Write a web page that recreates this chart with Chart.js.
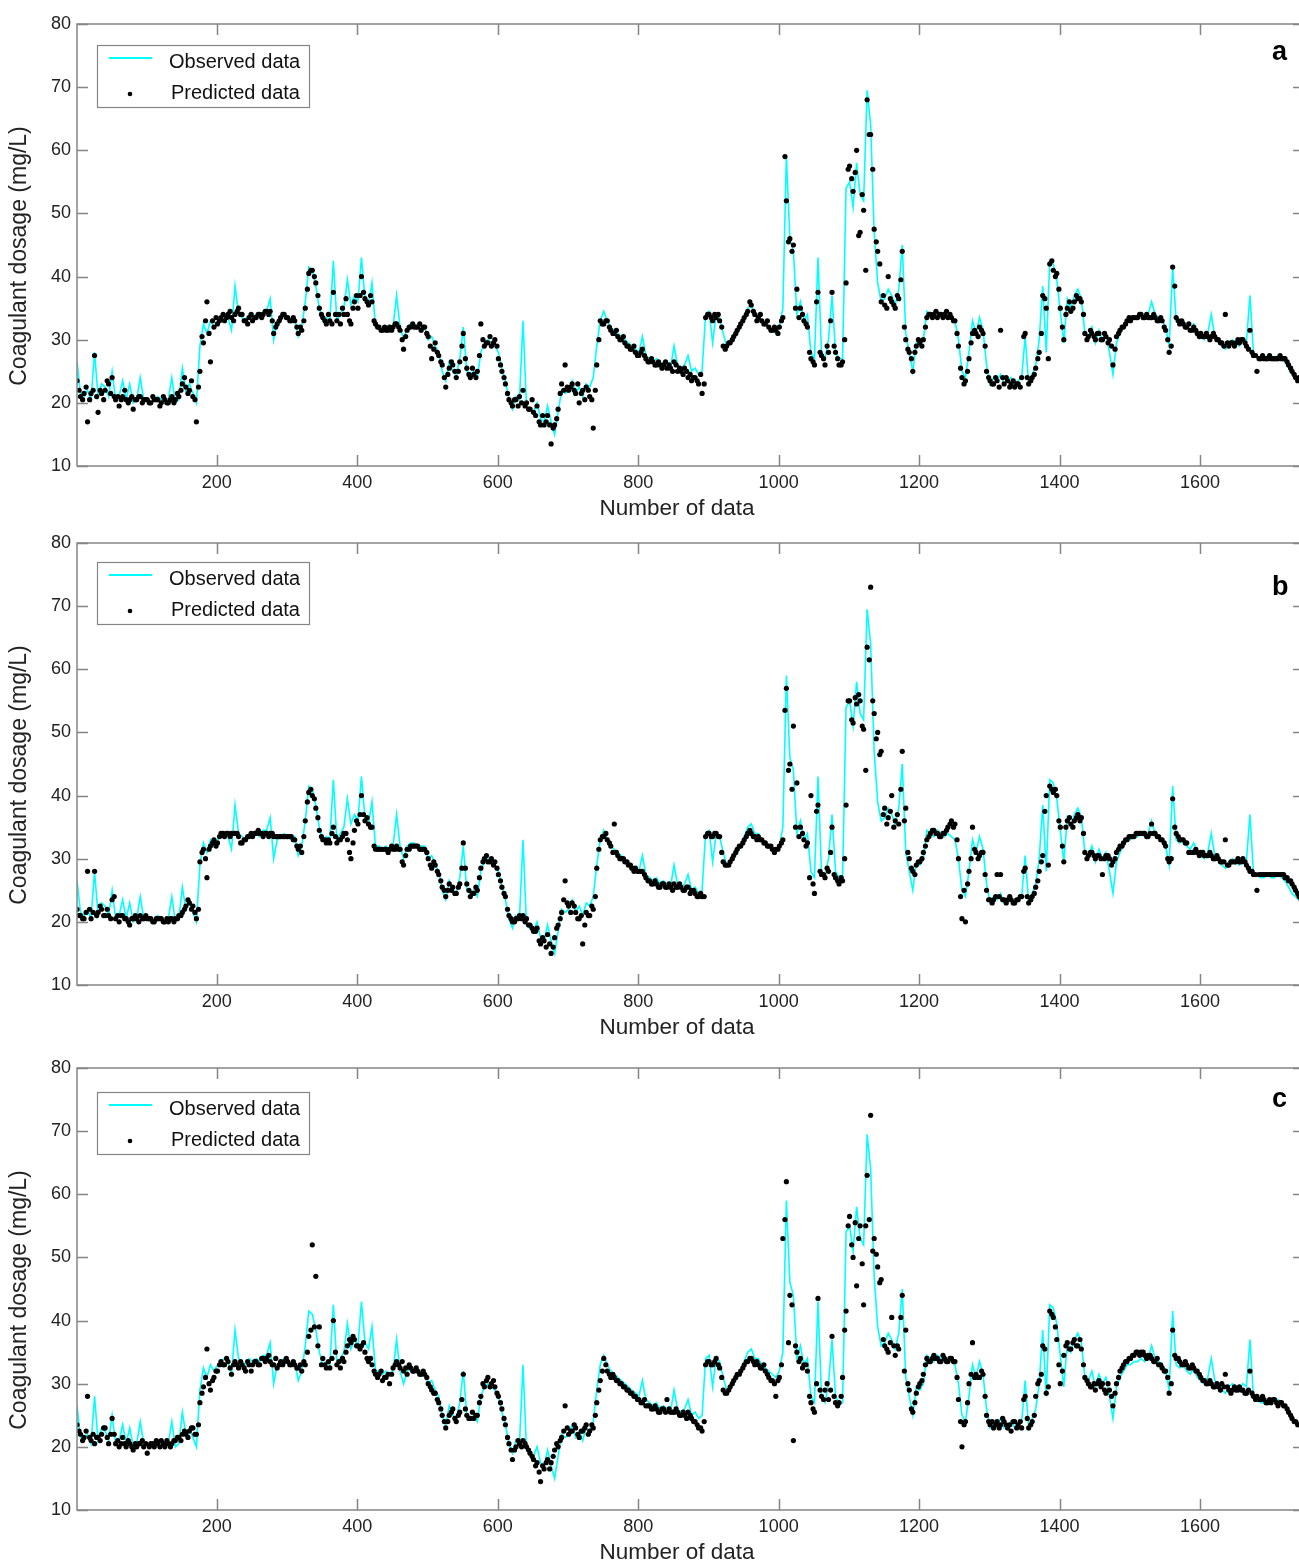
<!DOCTYPE html>
<html>
<head>
<meta charset="utf-8">
<script src="https://cdn.jsdelivr.net/npm/chart.js@4.4.1/dist/chart.umd.min.js"></script>
<style>
  html, body { margin: 0; padding: 0; background: #fff; overflow: hidden; }
  body { width: 1299px; height: 1562px; position: relative; }
  .panel { position: absolute; left: 0; width: 1330px; height: 526px; }
</style>
</head>
<body>
<div class="panel" style="top:0px"><canvas id="chartA" width="1330" height="526"></canvas></div>
<div class="panel" style="top:519px"><canvas id="chartB" width="1330" height="526"></canvas></div>
<div class="panel" style="top:1044px"><canvas id="chartC" width="1330" height="526"></canvas></div>
<script>
// values read every 5 data points: main samples start at data point 1,
// the in-between predicted samples start at data point 4
const firstSample = 1;
const offsetSample = 4;
const sampleStep = 5;

const xTickValues = [200, 400, 600, 800, 1000, 1200, 1400, 1600];
const yTickValues = [10, 20, 30, 40, 50, 60, 70, 80];

// observed coagulant dosage (mg/L), same in all three panels
const observed = [
  26.5, 21.5, 21, 22, 20.5, 28, 21, 23, 22.5, 21, 25, 20.5, 21, 23.5, 20.5, 23, 20, 20.5, 24, 20.5,        // 1
  20.5, 20, 20.5, 21, 20.5, 20, 20.5, 24, 20, 20.5, 25.5, 22, 23, 21.5, 20, 29, 32.5, 31, 33, 32,          // 101
  33, 33.5, 34, 33.5, 31.5, 38.5, 34, 33.5, 33, 34, 33.5, 34, 33.5, 34.5, 34.5, 36.5, 30, 33, 33.5, 34,    // 201
  33.5, 33, 33.5, 30.5, 32, 36, 41.5, 41, 38.5, 35, 33, 33.5, 33, 42.5, 33, 34, 35, 39.5, 35.5, 37,        // 301
  36, 43, 36.5, 35.5, 39, 32, 32, 31.5, 32, 31.5, 32, 37, 32, 30, 32, 32.5, 32.5, 32, 32, 32,              // 401
  30, 30.5, 29, 28, 25, 23.5, 26.5, 25, 24.5, 27, 32, 25, 24.5, 25, 24, 28, 29.5, 30, 29.5, 29,            // 501
  28, 25.5, 23.5, 20.5, 19, 21, 20.5, 33, 19.5, 19, 18.5, 20, 17.5, 17, 19.5, 17, 15, 18.5, 22, 21.5,      // 601
  22, 23.5, 21.5, 22.5, 21, 23, 22.5, 24, 29, 33, 34.5, 33, 32, 31.5, 31, 30.5, 30, 29.5, 29, 28.5,        // 701
  28, 30.5, 27.5, 27, 26.5, 27, 26, 26.5, 26, 25.5, 29, 26, 25.5, 26, 27.5, 25, 25.5, 24.5, 25, 34,        // 801
  34.5, 29.5, 34, 33.5, 31, 29, 29.5, 30, 31, 32, 33.5, 35, 35.5, 34, 34, 33, 32.5, 32, 31.5, 31,          // 901
  32, 35, 59, 46, 44, 34, 36, 33, 34, 28, 27, 43, 28, 27, 30, 37, 28, 27, 27, 54,                          // 1001
  55, 51, 58, 53, 52, 69.5, 64, 47, 39, 36, 36.5, 38, 37, 35.5, 38, 45, 31, 28, 25, 29.5,                  // 1101
  29, 30, 34.5, 34, 33.5, 34.5, 34, 33.5, 34, 33.5, 33, 30, 25, 24, 28, 33, 31, 33.5, 31.5, 26,            // 1201
  23, 24, 23.5, 24.5, 23, 23.5, 24, 23, 23.5, 24, 30.5, 23, 24.5, 26, 30, 38.5, 28, 42.5, 42, 39.5,        // 1301
  34.5, 29.5, 36.5, 35, 37, 38, 36.5, 31, 30.5, 32, 29.5, 31.5, 30, 31, 28, 24.5, 29.5, 31, 32, 33,        // 1401
  33, 33.5, 33.5, 34, 33.5, 34, 36, 34, 33.5, 33, 32, 29, 41.5, 33, 32.5, 33, 32, 31.5, 32.5, 31,          // 1501
  30.5, 30, 31, 34, 30.5, 30, 29, 28.5, 29.5, 30, 29.5, 29, 30, 29.5, 37, 28, 27.5, 27, 27, 27.5,          // 1601
  27, 27, 27.5, 27, 26.5, 25.5, 24.5, 24, 23.5, 24                                                          // 1701
];

// predicted dosage, panel a (data points 1, 6, 11, ...)
const predictedA = [
  23.5, 21, 21.5, 17, 21.5, 27.5, 18.5, 21.5, 22, 23, 24, 20.5, 19.5, 21, 20.5, 20.5, 19, 20.5, 21, 20.5,
  20.5, 20, 20.5, 20.5, 20, 20.5, 20, 21, 20.5, 21, 23, 22.5, 22, 21, 17, 25, 29.5, 36, 26.5, 32,
  32.5, 33.5, 33, 34, 33.5, 34, 35, 34, 33, 33.5, 33, 33.5, 34, 34, 34.5, 34.5, 31, 32.5, 33.5, 34,
  33.5, 33, 33, 31, 31.5, 35, 40.5, 41, 39, 35, 33.5, 32.5, 33, 37.5, 33, 32.5, 34, 34, 32.5, 36,
  35, 40, 36.5, 35.5, 36, 32.5, 32, 31.5, 31.5, 32, 32, 32.5, 31.5, 28.5, 31.5, 32, 32, 32, 31.5, 32,
  30.5, 27, 29.5, 27.5, 26, 22.5, 25.5, 26, 24, 26.5, 31, 25.5, 24, 24.5, 25, 32.5, 29, 29.5, 29, 30,
  27, 25, 23, 20.5, 19.5, 20.5, 21, 22, 20, 19, 18.5, 19.5, 16.5, 16.5, 18, 13.5, 16.5, 19, 23, 26,
  22, 23, 21.5, 20, 22, 22.5, 21, 16, 26, 33, 32.5, 33, 31.5, 31, 30.5, 30, 29.5, 29, 28.5, 28,
  27.5, 28.5, 27, 26.5, 26.5, 26, 26, 26, 25.5, 25.5, 26.5, 25, 25, 25.5, 24, 23.5, 24, 23, 21.5, 33.5,
  34, 33, 33.5, 33, 29, 29, 29.5, 30.5, 31.5, 32.5, 33.5, 34.5, 35.5, 34, 33.5, 33, 32.5, 32, 31.5, 31.5,
  32, 33.5, 52, 46, 45, 38, 35, 33, 32, 27, 26, 37.5, 27.5, 26, 28, 37.5, 28, 26, 26.5, 39,
  57.5, 53.5, 60, 47, 50.5, 68, 62.5, 47.5, 44, 36, 35.5, 40, 36, 35, 36.5, 44, 30, 28, 25, 29,
  29.5, 30, 33.5, 34, 34, 33.5, 34, 34, 33.5, 33.5, 33, 29, 24, 23.5, 27, 31, 31, 32, 31, 25,
  23.5, 23, 23.5, 31.5, 23, 23.5, 23, 22.5, 23, 24, 31, 23, 24, 25.5, 28, 37, 35, 42, 41, 40.5,
  35, 30, 35, 34.5, 36, 36.5, 36, 31, 30.5, 31, 30, 31, 30, 30.5, 30, 26, 30.5, 31.5, 32, 33,
  33, 33.5, 33.5, 34, 33.5, 33.5, 33.5, 33.5, 33, 33, 31.5, 28, 41.5, 33.5, 32.5, 32.5, 32, 31.5, 32, 31,
  31, 30.5, 30.5, 30.5, 30.5, 30, 29.5, 34, 29, 29.5, 29.5, 29.5, 30, 29, 31.5, 27.5, 25, 27, 27, 27,
  27, 27, 27, 27, 27, 26, 25, 24, 24, 24
];
// predicted dosage, panel a (data points 4, 9, 14, ...)
const predictedAOffset = [
  22, 20.5, 22.5, 20.5, 22, 21, 22, 20.5, 23.5, 21.5, 21, 21, 20.5, 22, 20, 21, 20.5, 21, 20, 20.5,
  20, 21, 20.5, 19.5, 21, 20, 20.5, 20, 21.5, 22, 24, 21.5, 23.5, 20.5, 22.5, 30.5, 33, 31, 33, 33.5,
  33, 34, 33.5, 34.5, 33, 34.5, 34, 33, 32.5, 34, 33.5, 34, 33.5, 34.5, 34, 33, 32, 33, 34, 33.5,
  33, 33.5, 32, 32, 33, 38, 41, 40, 37, 34, 33, 34, 32.5, 34, 34, 35, 36.5, 33, 35, 37,
  37, 37.5, 36, 37, 33, 32, 31.5, 32, 31.5, 31.5, 32.5, 32, 30, 30.5, 32, 32.5, 32, 32.5, 32, 31,
  29, 28.5, 28, 26.5, 24, 24.5, 26.5, 25, 25, 29, 27, 24.5, 25.5, 24, 27.5, 30, 29.5, 30.5, 29.5, 29,
  26, 24, 21.5, 20, 20.5, 19.5, 20, 19.5, 19, 20.5, 18, 17, 18, 17, 16.5, 16, 17.5, 21.5, 22, 22.5,
  22.5, 22, 23, 21.5, 20.5, 22, 20.5, 22, 30, 32.5, 33, 32, 31, 31.5, 30, 30.5, 29, 28.5, 29, 27.5,
  28, 27.5, 26.5, 27, 26, 26.5, 25.5, 26.5, 26, 25, 26, 25.5, 24.5, 25, 24.5, 24, 23.5, 24.5, 23, 34,
  33.5, 34, 34, 32, 28.5, 29.5, 30, 31, 32, 33, 34, 36, 34.5, 33, 34, 32.5, 33, 31.5, 32, 31,
  33, 59, 45.5, 44, 35, 33.5, 34, 32.5, 28, 26.5, 36, 28, 27, 29, 33, 29, 27, 26, 30, 57,
  55.5, 56.5, 46.5, 53, 41, 62.5, 57, 45.5, 42, 37, 35, 36.5, 35.5, 37, 39.5, 32, 28.5, 27, 28, 30,
  29, 32, 34, 33.5, 34.5, 34, 33.5, 34.5, 34, 33, 31, 25.5, 23, 25, 29.5, 31.5, 30.5, 31.5, 29, 24,
  23, 24, 22.5, 24, 24, 22.5, 23.5, 23, 22.5, 30.5, 24, 23.5, 24.5, 27, 31, 36.5, 27, 42.5, 40, 38,
  32, 34, 36, 35, 37, 36.5, 34, 30, 31.5, 30.5, 31, 30, 31, 29.5, 29, 28.5, 31, 32, 32.5, 33.5,
  33.5, 33.5, 34, 33.5, 34, 33.5, 34, 33, 33.5, 32, 30, 29, 38.5, 33, 33, 32, 32.5, 31.5, 31.5, 30.5,
  30.5, 31, 30, 31, 30, 29.5, 29, 29.5, 29.5, 29, 30, 30, 29.5, 28.5, 28, 27.5, 27, 27.5, 27, 27.5,
  27, 27, 27.5, 27, 26.5, 25.5, 24.5, 23.5, 24
];

// predicted dosage, panel b
const predictedB = [
  22, 21, 20.5, 28, 20.5, 28, 21.5, 22, 21, 21, 23.5, 20.5, 20, 21, 20.5, 19.5, 20.5, 20.5, 21, 20.5,
  20.5, 20.5, 20, 20.5, 20.5, 20, 20, 20.5, 20.5, 21, 21.5, 22.5, 23, 22.5, 20.5, 29.5, 31.5, 27, 32, 33,
  32.5, 34, 33.5, 34, 34, 34, 33.5, 32.5, 33, 33.5, 33.5, 34, 34, 33.5, 34, 34, 33.5, 33.5, 33.5, 33.5,
  33.5, 33.5, 33, 31.5, 31, 36, 40.5, 40, 38, 34.5, 33, 32.5, 32.5, 35, 32.5, 33, 34, 33, 30, 34.5,
  35.5, 40, 36, 35.5, 35, 31.5, 31.5, 31.5, 31.5, 31.5, 31.5, 32, 31.5, 29, 31.5, 32, 32, 32, 31.5, 31.5,
  30, 28.5, 29, 27.5, 25.5, 24, 26, 25.5, 24.5, 26, 32.5, 26, 24, 24.5, 25, 28.5, 30, 29.5, 30, 29.5,
  27.5, 25.5, 24, 21, 20, 20.5, 21, 21, 20.5, 19.5, 18.5, 19, 16.5, 17, 18, 15, 17.5, 19.5, 21.5, 26.5,
  22.5, 23, 21.5, 20.5, 16.5, 21.5, 21, 22, 28.5, 33, 33.5, 33, 32, 35.5, 30.5, 30, 29.5, 29, 28.5, 28.5,
  28, 28, 27, 26.5, 26, 26, 25.5, 26, 25.5, 25.5, 26, 25.5, 25.5, 25, 25.5, 25, 24.5, 24, 24, 33.5,
  34, 33.5, 34, 33.5, 29.5, 29, 29.5, 30.5, 31.5, 32, 33, 34, 34, 33.5, 33.5, 33, 32.5, 32, 31.5, 31.5,
  32, 33, 57, 45, 51, 42, 35, 33, 32.5, 40, 24.5, 38.5, 27.5, 27, 28, 35, 27, 26, 26.5, 38.5,
  55, 51.5, 54.5, 55, 50.5, 63.5, 73, 53, 50, 47, 38, 36.5, 40, 36, 35.5, 47, 38, 30, 28, 29,
  29.5, 31, 33, 34, 34.5, 34, 33.5, 34, 35, 36, 35.5, 30, 20.5, 20, 28, 35, 31, 30.5, 31, 25,
  23.5, 23.5, 27.5, 27.5, 23.5, 23.5, 23.5, 23, 23.5, 24, 28.5, 23, 24, 25.5, 28, 30.5, 40, 41.5, 40.5, 40,
  35, 29.5, 36, 35.5, 36, 37, 36.5, 31, 30.5, 31, 30, 30.5, 27.5, 30.5, 30, 29.5, 31, 32, 32.5, 33,
  33.5, 33.5, 34, 34, 34, 33.5, 35.5, 34, 33.5, 33, 32, 29.5, 39.5, 34, 33, 33, 32.5, 31, 31, 31,
  31, 30.5, 30.5, 30.5, 30, 30, 29.5, 33, 29, 29.5, 29.5, 29.5, 30, 29, 28, 27.5, 25, 27.5, 27.5, 27.5,
  27.5, 27.5, 27.5, 27.5, 27, 26.5, 26, 25, 24, 23.5
];
const predictedBOffset = [
  21, 20.5, 21.5, 22, 21.5, 21, 22.5, 21, 22, 20.5, 24, 21, 21, 20.5, 20, 20.5, 21, 20, 20.5, 21,
  20.5, 20, 20.5, 20.5, 20, 20.5, 20.5, 20, 20.5, 21, 22, 23.5, 22, 21.5, 22, 31, 30, 31.5, 32.5, 32,
  33.5, 34, 34, 33.5, 34, 34, 32.5, 33, 33.5, 34, 34, 34.5, 34, 34, 33.5, 34, 33.5, 33.5, 33.5, 33.5,
  33.5, 33, 32, 32, 33.5, 39, 41, 39.5, 36.5, 33.5, 33, 33, 34, 33.5, 33, 33.5, 34, 31, 32.5, 36,
  37, 37, 36.5, 35, 32, 31.5, 31.5, 31.5, 31, 32, 31.5, 31.5, 29.5, 30.5, 31.5, 32, 32, 31.5, 31.5, 31,
  29, 29.5, 28, 26.5, 25, 25, 25, 24.5, 25.5, 28.5, 28.5, 25, 24.5, 25.5, 27, 29.5, 30.5, 29.5, 29, 28.5,
  26.5, 24.5, 22, 20.5, 20, 20.5, 20.5, 20, 19.5, 19, 18.5, 17, 17.5, 16, 16.5, 16, 19, 20.5, 23.5, 23,
  21.5, 22.5, 20.5, 21, 19.5, 21, 22.5, 24, 31.5, 33.5, 34, 32.5, 31, 31, 30, 30, 29.5, 29, 28, 28,
  28, 27.5, 26.5, 26, 26.5, 25.5, 26, 25.5, 26, 25, 25.5, 26, 25, 25.5, 24.5, 25, 24, 24.5, 24, 34,
  33.5, 34, 33.5, 31, 29, 29, 30, 31, 32, 32.5, 33.5, 34.5, 33.5, 33, 33, 32.5, 32, 32, 31, 31.5,
  32.5, 53.5, 44, 41, 35, 33.5, 34, 32, 27, 26, 37.5, 28, 27.5, 28.5, 31, 27.5, 26.5, 27, 30, 55,
  52, 55.5, 56, 51, 44, 61.5, 55, 49, 46.5, 37, 35.5, 37.5, 35, 37, 41, 36, 31, 28.5, 27.5, 29.5,
  30, 32, 33.5, 34.5, 34, 33.5, 34, 34.5, 35.5, 35, 33, 24, 25, 26, 30, 31.5, 30, 31, 27.5, 23.5,
  23, 24, 24, 23.5, 23, 24, 23, 23.5, 24, 28, 24, 23.5, 24.5, 26.5, 29.5, 37.5, 29, 41, 41, 36,
  32, 35, 36.5, 35, 36.5, 36, 34, 30, 31, 30.5, 30.5, 30, 30, 30.5, 29, 30, 31.5, 32, 33, 33.5,
  33.5, 34, 34, 34, 33.5, 34, 34, 33.5, 33, 32.5, 30, 30, 35, 33.5, 33, 32.5, 31, 31, 31.5, 30.5,
  31, 30.5, 31, 30, 30.5, 29.5, 29.5, 29, 29.5, 29.5, 30, 29.5, 29.5, 28.5, 28, 27.5, 27.5, 27.5, 27.5, 27.5,
  27.5, 27.5, 27.5, 27.5, 27, 26.5, 25.5, 24.5, 23.5
];

// predicted dosage, panel c
const predictedC = [
  23.5, 22, 21.5, 28, 21, 20.5, 21.5, 22, 23, 20.5, 24.5, 20.5, 20, 21.5, 20, 20.5, 19.5, 20, 20.5, 20,
  19, 20.5, 20, 20.5, 21, 20, 20.5, 20.5, 21, 21.5, 22, 22, 22.5, 23, 22, 27, 29.5, 35.5, 29, 31,
  32, 33.5, 33, 33.5, 31.5, 33.5, 32.5, 33, 32, 33, 33, 33.5, 33, 34, 34, 33.5, 33, 32.5, 33.5, 33.5,
  33.5, 33, 33, 32.5, 32, 33, 37.5, 52, 47, 39, 34, 32.5, 32.5, 40, 33, 32.5, 33.5, 36, 36.5, 37,
  36, 36, 35, 33.5, 33, 31.5, 31.5, 30.5, 31, 30, 32.5, 33.5, 32.5, 32, 31.5, 32.5, 32, 32, 31.5, 31.5,
  30, 29, 28.5, 27, 25, 23, 25, 26, 24, 25.5, 31.5, 25, 24.5, 24.5, 25, 28, 29.5, 31, 30, 29.5,
  28, 26, 23.5, 20.5, 18, 20, 20.5, 21, 20, 19, 18, 17.5, 14.5, 16.5, 18, 17.5, 19.5, 20, 21.5, 26.5,
  22, 22.5, 23, 21.5, 22.5, 23.5, 22.5, 23, 27, 30.5, 34, 32, 31, 31, 30.5, 30, 29.5, 29, 28.5, 28,
  27.5, 27, 26.5, 26.5, 26, 26, 25.5, 26, 27.5, 25.5, 25.5, 25.5, 25, 25, 25.5, 24.5, 24, 23, 22.5, 33,
  33.5, 33, 34, 32.5, 29, 28.5, 29.5, 30.5, 31.5, 32, 33, 33.5, 34, 33, 33, 32.5, 32, 31, 30.5, 28,
  31, 53, 62, 44, 21, 35, 34, 33, 32, 27, 25.5, 43.5, 28, 29, 27.5, 37.5, 27, 27, 31, 41.5,
  56.5, 50, 45.5, 55, 42.5, 63, 72.5, 53, 48.5, 46.5, 36, 35, 40.5, 34.5, 35.5, 44, 38.5, 29, 25.5, 28.5,
  30, 31.5, 34, 33.5, 34.5, 34, 33.5, 34, 33.5, 34, 33.5, 27.5, 20, 24, 30, 36.5, 31.5, 31, 31.5, 25,
  23.5, 23, 24, 23.5, 24, 23, 22.5, 24, 23.5, 23, 28, 23, 24, 28, 30.5, 36, 28.5, 41.5, 40.5, 37,
  30, 34.5, 36.5, 35.5, 37, 36, 35.5, 31, 30, 29.5, 29, 30.5, 30, 28.5, 29, 26.5, 30, 32, 33, 33.5,
  34, 34.5, 35, 35, 34.5, 34.5, 34, 33.5, 33, 32.5, 32, 28.5, 38.5, 34, 33.5, 33, 33, 32.5, 32.5, 32,
  31, 30.5, 30, 30, 29.5, 29.5, 30, 31.5, 29, 29, 29, 29.5, 29, 28.5, 32, 28, 28, 27.5, 27.5, 27,
  27, 27.5, 26.5, 27, 26.5, 25.5, 24.5, 24, 23.5, 23.5
];
const predictedCOffset = [
  22.5, 21, 22.5, 21.5, 22, 21.5, 21, 23, 21.5, 22, 22, 21, 20.5, 20.5, 21, 20, 20.5, 20.5, 21, 20.5,
  20, 20.5, 21, 20, 20.5, 21, 20, 21, 21.5, 21, 22.5, 21.5, 23, 22, 23.5, 28.5, 31, 30, 30.5, 32,
  33, 33, 34, 32.5, 33, 33, 33.5, 32.5, 33.5, 32, 33.5, 33, 34, 33.5, 34.5, 33, 34, 33, 33, 34,
  33, 33.5, 32.5, 33, 33.5, 35, 38.5, 39, 36, 33, 33, 33.5, 34, 35, 33.5, 34, 35, 37, 37.5, 36,
  35.5, 36.5, 34, 34, 32, 31, 32, 31, 31.5, 31.5, 33, 33, 33.5, 32.5, 33, 32, 32.5, 31.5, 32, 31,
  29.5, 28.5, 27.5, 26, 24, 24, 25.5, 24.5, 25, 27.5, 26, 24.5, 25.5, 25, 27, 30, 30.5, 29.5, 30.5, 28.5,
  27, 24.5, 21.5, 19.5, 19.5, 21, 20, 20.5, 19.5, 18.5, 17, 16, 17, 17.5, 16.5, 18.5, 20.5, 21, 22.5, 23,
  22.5, 23.5, 22, 22.5, 23, 22, 23.5, 25, 29, 32, 33, 31.5, 31.5, 30.5, 30, 29.5, 29, 28.5, 28, 27.5,
  27, 27.5, 26.5, 26, 26.5, 25.5, 26, 25.5, 26, 25.5, 26, 25, 25.5, 24.5, 25, 24, 23.5, 23, 24, 33.5,
  33, 33.5, 33, 31, 28.5, 29, 30, 31, 31.5, 32.5, 33.5, 34, 33.5, 33.5, 32.5, 33, 31.5, 30.5, 30, 30.5,
  33, 56, 36.5, 42.5, 36, 33.5, 32.5, 33, 28, 26, 30, 29, 27.5, 30, 29, 28, 26.5, 28, 38.5, 55,
  52, 55.5, 53, 49, 55, 56, 51, 50.5, 46, 37, 35.5, 36.5, 36, 36, 40.5, 32, 30, 26, 27, 29.5,
  30.5, 33, 33.5, 34, 34, 33.5, 34.5, 33.5, 34, 33.5, 31, 24, 23.5, 27, 31.5, 31, 31, 32, 28, 24,
  24, 23.5, 23, 24.5, 23.5, 23.5, 24, 23, 24, 27.5, 24.5, 23.5, 25, 30, 31.5, 35.5, 29.5, 41, 39, 33,
  32, 36, 35.5, 36.5, 36, 37, 33, 30.5, 29.5, 30, 30, 29.5, 29, 30, 28, 28.5, 31, 32.5, 33.5, 34,
  34.5, 35, 34.5, 35, 34, 34.5, 33.5, 34, 33, 32, 31, 30, 34.5, 34, 33, 33.5, 32.5, 33, 32, 31.5,
  30.5, 30, 30.5, 29.5, 30, 29, 29.5, 29.5, 28.5, 29.5, 29, 29, 28.5, 29, 28.5, 27.5, 27.5, 28, 27, 27.5,
  27.5, 27, 27, 26.5, 26, 25, 24, 23.5, 24
];

const panels = [
  { canvas: "chartA", letter: "a", predicted: predictedA, predictedOffset: predictedAOffset, legendDy: 21, letterDy: 36 },
  { canvas: "chartB", letter: "b", predicted: predictedB, predictedOffset: predictedBOffset, legendDy: 19, letterDy: 52 },
  { canvas: "chartC", letter: "c", predicted: predictedC, predictedOffset: predictedCOffset, legendDy: 24, letterDy: 39 }
];

const FONT = "'Liberation Sans', Arial, Helvetica, sans-serif";
const frameColor = "#858585";

function toPoints(values, start) {
  return values.map((v, i) => ({ x: start + i * sampleStep, y: v }));
}

// box round the axes with inward ticks, like the original figure
const framePlugin = {
  id: "frame",
  afterDatasetsDraw(chart) {
    const { ctx, chartArea: a, scales } = chart;
    const tick = 11;
    ctx.save();
    ctx.strokeStyle = frameColor;
    ctx.lineWidth = 1.5;
    ctx.strokeRect(a.left, a.top, a.right - a.left, a.bottom - a.top);
    ctx.beginPath();
    xTickValues.forEach(v => {
      const px = Math.round(scales.x.getPixelForValue(v)) + 0.5;
      ctx.moveTo(px, a.bottom); ctx.lineTo(px, a.bottom - tick);
      ctx.moveTo(px, a.top); ctx.lineTo(px, a.top + tick);
    });
    yTickValues.forEach(v => {
      const py = Math.round(scales.y.getPixelForValue(v)) + 0.5;
      ctx.moveTo(a.left, py); ctx.lineTo(a.left + tick, py);
      ctx.moveTo(a.right, py); ctx.lineTo(a.right - tick, py);
    });
    ctx.stroke();
    ctx.restore();
  }
};

// legend box, panel letter and the two axis titles
const legendPlugin = {
  id: "boxLegend",
  afterDraw(chart, args, opts) {
    const { ctx, chartArea: a } = chart;
    const bx = a.left + 20, by = a.top + opts.legendDy;
    ctx.save();
    ctx.fillStyle = "#fff";
    ctx.fillRect(bx, by, 212, 62);
    ctx.strokeStyle = frameColor;
    ctx.lineWidth = 1.2;
    ctx.strokeRect(bx + 0.5, by + 0.5, 212, 62);

    ctx.strokeStyle = "#00ffff";
    ctx.lineWidth = 2;
    ctx.beginPath();
    ctx.moveTo(bx + 12, by + 13);
    ctx.lineTo(bx + 55, by + 13);
    ctx.stroke();

    ctx.fillStyle = "#000";
    ctx.beginPath();
    ctx.arc(bx + 33, by + 49, 2.3, 0, Math.PI * 2);
    ctx.fill();

    ctx.fillStyle = "#111";
    ctx.font = "20px " + FONT;
    ctx.textBaseline = "middle";
    ctx.textAlign = "left";
    ctx.fillText("Observed data", bx + 72, by + 17);
    ctx.fillText("Predicted data", bx + 74, by + 48);

    ctx.font = "bold 27px " + FONT;
    ctx.textBaseline = "alphabetic";
    ctx.fillStyle = "#000";
    ctx.fillText(opts.letter, 1272, a.top + opts.letterDy);

    ctx.fillStyle = "#222";
    ctx.textAlign = "center";
    ctx.textBaseline = "middle";
    ctx.font = "22.5px " + FONT;
    ctx.fillText("Number of data", 677, a.bottom + 43);
    ctx.translate(20, a.top + 232);
    ctx.rotate(-Math.PI / 2);
    ctx.font = "23px " + FONT;
    ctx.fillText("Coagulant dosage (mg/L)", 0, 0);
    ctx.restore();
  }
};

panels.forEach(p => {
  new Chart(document.getElementById(p.canvas), {
    type: "line",
    data: {
      datasets: [
        {
          label: "Predicted data",
          data: toPoints(p.predicted, firstSample).concat(toPoints(p.predictedOffset, offsetSample)),
          showLine: false,
          pointRadius: 2.6,
          pointBackgroundColor: "#000",
          pointBorderWidth: 0,
          order: 0
        },
        {
          label: "Observed data",
          data: toPoints(observed, firstSample),
          borderColor: "#00ffff",
          borderWidth: 1.6,
          pointRadius: 0,
          tension: 0,
          order: 1
        }
      ]
    },
    options: {
      responsive: false,
      animation: false,
      devicePixelRatio: 1,
      layout: { padding: { top: 24, right: 26, left: 0, bottom: 0 } },
      plugins: {
        legend: { display: false },
        tooltip: { enabled: false },
        boxLegend: { legendDy: p.legendDy, letterDy: p.letterDy, letter: p.letter }
      },
      scales: {
        x: {
          type: "linear",
          min: 1,
          max: 1748,
          grid: { display: false, drawTicks: false },
          border: { display: false },
          afterBuildTicks: s => { s.ticks = xTickValues.map(v => ({ value: v })); },
          afterFit: s => { s.height = 60; },
          ticks: { padding: 6, color: "#222", font: { family: FONT, size: 18 }, callback: v => String(v) }
        },
        y: {
          min: 10,
          max: 80,
          grid: { display: false, drawTicks: false },
          border: { display: false },
          afterBuildTicks: s => { s.ticks = yTickValues.map(v => ({ value: v })); },
          afterFit: s => { s.width = 77; },
          ticks: { padding: 6, color: "#222", font: { family: FONT, size: 18 }, callback: v => String(v) }
        }
      }
    },
    plugins: [framePlugin, legendPlugin]
  });
});
</script>
</body>
</html>
